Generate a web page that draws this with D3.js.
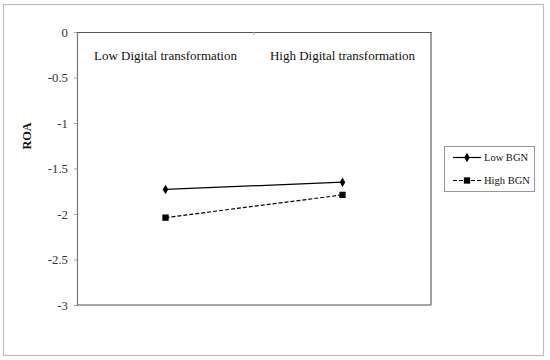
<!DOCTYPE html>
<html>
<head>
<meta charset="utf-8">
<script src="https://cdn.jsdelivr.net/npm/d3@7"></script>
<style>
  body { margin: 0; background: #fff; }
  svg { display: block; }
  text { font-family: "Liberation Serif", "Times New Roman", serif; }
</style>
</head>
<body>
<svg id="chart" width="550" height="360"></svg>
<script>
const categories = ["Low Digital transformation", "High Digital transformation"];
const seriesNames = ["Low BGN", "High BGN"];
const lowBGN = [-1.73, -1.65];
const highBGN = [-2.04, -1.79];
const yTicks = [0, -0.5, -1, -1.5, -2, -2.5, -3];
const yLabel = "ROA";

const svg = d3.select("#chart");

// outer frame
svg.append("rect").attr("x", 3.5).attr("y", 4.5).attr("width", 540).attr("height", 351)
  .attr("fill", "#fff").attr("stroke", "#bdbdbd").attr("stroke-width", 1.2);

const plot = { left: 77, right: 431, top: 32, bottom: 305 };

const x = d3.scaleBand().domain(categories).range([plot.left, plot.right]).paddingInner(0).paddingOuter(0);
const y = d3.scaleLinear().domain([-3, 0]).range([plot.bottom, plot.top]);

// plot area border
svg.append("line").attr("x1", plot.right).attr("x2", plot.right).attr("y1", plot.top).attr("y2", plot.bottom)
  .attr("stroke", "#8a8a8a").attr("stroke-width", 1.6);
svg.append("line").attr("x1", plot.left).attr("x2", plot.right).attr("y1", plot.bottom).attr("y2", plot.bottom)
  .attr("stroke", "#8a8a8a").attr("stroke-width", 1.6);

// y axis
const yAxis = d3.axisLeft(y).tickValues(yTicks).tickSize(3).tickPadding(6)
  .tickFormat(d => String(d));
const gy = svg.append("g").attr("transform", `translate(${plot.left},0)`).call(yAxis);
gy.attr("font-family", null);
gy.select(".domain").attr("stroke", "#777").attr("stroke-width", 1.2);
gy.selectAll(".tick line").attr("stroke", "#aaa");
gy.selectAll(".tick text").attr("font-size", 12.8).attr("fill", "#333");

// x axis along y = 0 (top)
const xAxis = d3.axisBottom(x).tickSize(0).tickFormat("");
const gx = svg.append("g").attr("transform", `translate(0,${y(0)})`).call(xAxis);
gx.select(".domain").attr("stroke", "#555").attr("stroke-width", 1.2);
gx.selectAll(".tick").remove();
// band boundary tick
svg.append("g").selectAll("line").data(categories.slice(1)).join("line")
  .attr("x1", d => x(d)).attr("x2", d => x(d))
  .attr("y1", y(0)).attr("y2", y(0) + 3)
  .attr("stroke", "#aaa");
// category labels
svg.append("g").selectAll("text").data(categories).join("text")
  .attr("x", d => x(d) + x.bandwidth() / 2)
  .attr("y", y(0) + 28)
  .attr("text-anchor", "middle")
  .attr("font-size", 13)
  .attr("fill", "#111")
  .text(d => d);

// y label
svg.append("text")
  .attr("transform", `translate(31,136) rotate(-90)`)
  .attr("text-anchor", "middle")
  .attr("font-size", 12.2)
  .attr("font-weight", "bold")
  .attr("fill", "#111")
  .text(yLabel);

const line = d3.line().x((d, i) => x(categories[i]) + x.bandwidth() / 2).y(d => y(d));

const diamond = d3.symbol().type(d3.symbolDiamond).size(26);
const square = d3.symbol().type(d3.symbolSquare).size(40);

// Low BGN
svg.append("path").datum(lowBGN).attr("d", line).attr("fill", "none")
  .attr("stroke", "#000").attr("stroke-width", 1.2);
svg.append("g").selectAll("path").data(lowBGN).join("path")
  .attr("transform", (d, i) => `translate(${x(categories[i]) + x.bandwidth() / 2},${y(d)})`)
  .attr("d", diamond).attr("fill", "#000");

// High BGN
svg.append("path").datum(highBGN).attr("d", line).attr("fill", "none")
  .attr("stroke", "#000").attr("stroke-width", 1.2).attr("stroke-dasharray", "4,2");
svg.append("g").selectAll("path").data(highBGN).join("path")
  .attr("transform", (d, i) => `translate(${x(categories[i]) + x.bandwidth() / 2},${y(d)})`)
  .attr("d", square).attr("fill", "#000");

// legend
const lg = svg.append("g");
lg.append("rect").attr("x", 444.5).attr("y", 146.5).attr("width", 90).attr("height", 45)
  .attr("fill", "#fff").attr("stroke", "#999").attr("stroke-width", 1);
const legendItems = [
  { name: seriesNames[0], dash: null, sym: diamond, yy: 157.5 },
  { name: seriesNames[1], dash: "4,2", sym: square, yy: 180.5 }
];
legendItems.forEach(it => {
  lg.append("line").attr("x1", 453).attr("x2", 481).attr("y1", it.yy).attr("y2", it.yy)
    .attr("stroke", "#000").attr("stroke-width", 1.2).attr("stroke-dasharray", it.dash);
  lg.append("path").attr("transform", `translate(467,${it.yy})`).attr("d", it.sym).attr("fill", "#000");
  lg.append("text").attr("x", 484).attr("y", it.yy + 3.5).attr("font-size", 10.5).attr("fill", "#111").text(it.name);
});
</script>
</body>
</html>
